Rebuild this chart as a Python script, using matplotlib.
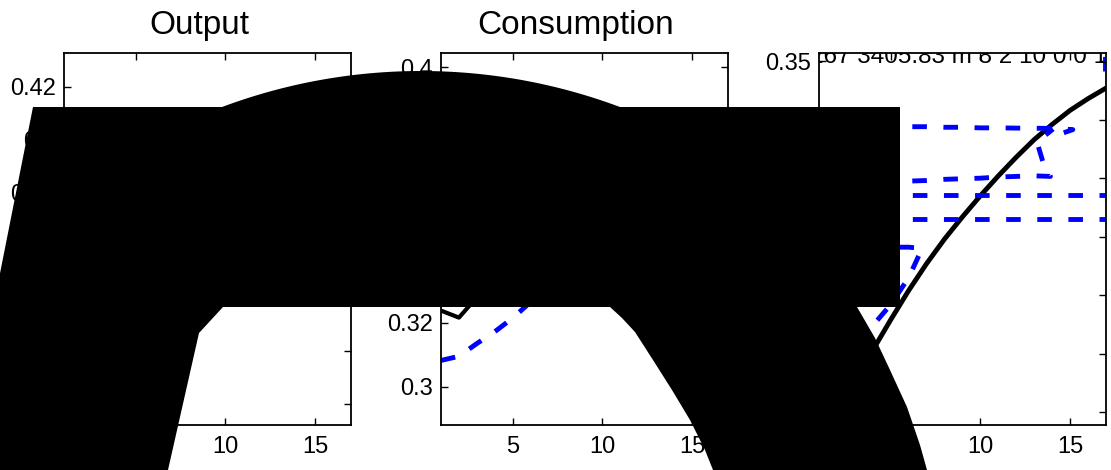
import numpy as np
import matplotlib.pyplot as plt
from matplotlib.patches import Polygon
from matplotlib.ticker import FuncFormatter

plt.rcParams['font.family'] = ['Liberation Sans', 'DejaVu Sans']

W, H = 1111, 470

# ---- data ----
horizon = list(range(1, 18))

output_model = [0.372, 0.378, 0.384, 0.389, 0.393, 0.396, 0.398, 0.399, 0.400,
                0.400, 0.399, 0.398, 0.397, 0.395, 0.393, 0.391, 0.389]
output_data = [0.355, 0.360, 0.366, 0.371, 0.376, 0.380, 0.383, 0.386, 0.388,
               0.389, 0.390, 0.390, 0.390, 0.389, 0.388, 0.387, 0.386]

cons_model = [0.3238, 0.3216, 0.328, 0.336, 0.343, 0.350, 0.356, 0.361, 0.365,
              0.368, 0.370, 0.372, 0.373, 0.374, 0.375, 0.375, 0.376]
cons_data = [0.3082, 0.3095, 0.3135, 0.3172, 0.3215, 0.3265, 0.331, 0.336, 0.340,
             0.344, 0.347, 0.350, 0.352, 0.354, 0.356, 0.357, 0.358]

third_model = [0.015, 0.045, 0.075, 0.103, 0.129, 0.154, 0.177, 0.198, 0.217,
               0.235, 0.252, 0.268, 0.283, 0.296, 0.308, 0.318, 0.327]

path_a_x = list(range(1, 15)) + [15.15, 14.3]
path_a_y = [0.295, 0.295, 0.295, 0.295, 0.2945, 0.294, 0.294, 0.2935, 0.2935,
            0.293, 0.293, 0.2928, 0.2927, 0.2925, 0.2915, 0.287]
path_b_x = list(range(1, 14)) + [13.9, 13.5, 13.15, 14.05]
path_b_y = [0.245, 0.2455, 0.246, 0.2465, 0.247, 0.2475, 0.248, 0.249, 0.2495,
            0.250, 0.251, 0.2515, 0.252, 0.2515, 0.263, 0.281, 0.292]
path_c_y = [0.236] * 17
path_d_y = [0.215] * 17
path_e_x = [1, 2, 3, 4, 5, 6, 6.75, 6.0, 5.0, 4.0]
path_e_y = [0.035, 0.070, 0.100, 0.124, 0.142, 0.165, 0.190, 0.191, 0.191, 0.191]
path_f_x = [16.92, 16.92]
path_f_y = [0.3415, 0.37]

odd_label = "267 3405.83 m 8 2 10 0 0 1"

# ---- figure ----
fig = plt.figure(figsize=(W / 100, H / 100), dpi=100)

pos_left = [64, 441, 819]
ax_w, ax_b, ax_h = 287, 45, 372


def style_axes(ax, ylim, yticks):
    ax.set_xlim(1, 17)
    ax.set_ylim(*ylim)
    ax.set_xticks([5, 10, 15])
    ax.set_yticks(yticks)
    ax.yaxis.set_major_formatter(FuncFormatter(lambda v, p: f"{v:g}"))
    ax.tick_params(direction='in', top=True, right=True, length=5, width=1,
                   labelsize=17)
    ax.tick_params(axis='x', pad=8)
    ax.tick_params(axis='y', pad=6)
    for s in ax.spines.values():
        s.set_linewidth(1.3)


axes = [fig.add_axes([l / W, ax_b / H, ax_w / W, ax_h / H]) for l in pos_left]
ax1, ax2, ax3 = axes

dash = (3.0, 3.4)

ax1.plot(horizon, output_model, color='black', lw=3)
ax1.plot(horizon, output_data, color='blue', lw=3.5, dashes=dash)
style_axes(ax1, (0.292, 0.4328), [0.30, 0.32, 0.34, 0.36, 0.38, 0.40, 0.42])
ax1.set_title("Output", fontsize=24, pad=14, x=0.47)

ax2.plot(horizon, cons_model, color='black', lw=3)
ax2.plot(horizon, cons_data, color='blue', lw=3.5, dashes=dash)
style_axes(ax2, (0.288, 0.4044), [0.30, 0.32, 0.34, 0.36, 0.38, 0.40])
ax2.set_title("Consumption", fontsize=24, pad=14, x=0.47)

ax3.plot(horizon, third_model, color='black', lw=3.5)
for px, py in [(path_a_x, path_a_y), (path_b_x, path_b_y),
               (horizon, path_c_y), (horizon, path_d_y),
               (path_e_x, path_e_y), (path_f_x, path_f_y)]:
    ax3.plot(px, py, color='blue', lw=3.5, dashes=dash)
style_axes(ax3, (0.039, 0.357), [0.05, 0.10, 0.15, 0.20, 0.25, 0.30, 0.35])
ax3.text(-0.03, 0.972, odd_label, transform=ax3.transAxes, fontsize=17.5,
         va='baseline', ha='left', clip_on=True)

# ---- large black overlay shape on top of the panels ----
arc_t = np.linspace(-0.358, 0.358, 60)
arc = [(421 + 568 * np.sin(t), 639 - 568 * np.cos(t)) for t in arc_t]
outline = ([(33, 107)] + arc +
           [(900, 107), (900, 307), (857, 307), (875, 338), (890, 370),
            (907, 407), (920, 445), (927, 470), (930, 490),
            (715, 490), (713, 470), (705, 450), (690, 420), (672, 390),
            (653, 360), (635, 332), (622, 318), (610, 307),
            (223, 307), (199, 333), (168, 470), (164, 490), (-43, 490)])
shape = Polygon([(x / W, 1 - y / H) for x, y in outline], closed=True,
                transform=fig.transFigure, facecolor='black',
                edgecolor='none', zorder=20)
fig.add_artist(shape)

fig.savefig("out.png", dpi=100)
